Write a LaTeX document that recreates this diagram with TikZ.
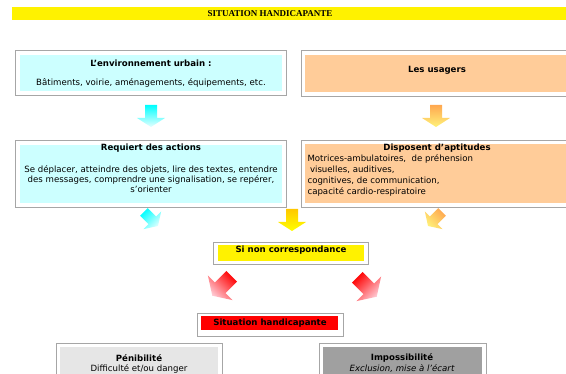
\documentclass[tikz,border=0pt]{standalone}
\usepackage{fontspec}
\setmainfont{DejaVu Sans}
\newfontfamily\titrefont{Liberation Serif}
\usepackage{tikz}
\usetikzlibrary{calc}

\definecolor{cyanclair}{HTML}{CCFFFF}
\definecolor{peche}{HTML}{FFCC99}
\definecolor{grisclair}{HTML}{E6E6E6}
\definecolor{grisfonce}{HTML}{A0A0A0}
\definecolor{cadregris}{HTML}{A6A6A6}
\definecolor{orangefl}{HTML}{FFA850}
\definecolor{jaunefl}{HTML}{FFF27A}
\definecolor{orfl}{HTML}{FFC800}
\definecolor{rosefl}{HTML}{FFD0DA}
\definecolor{cyanfl}{HTML}{E6FFFF}

\tikzset{
  cadre/.style={draw=cadregris, line width=0.7pt},
  titre/.style={font=\fontsize{8.6}{10.5}\selectfont\bfseries},
}

% fleche pleine : position, rotation, echelle, couleur depart, couleur arrivee, angle
\newcommand{\fleche}[6]{%
  \path[top color=#4, bottom color=#5, shading angle=#6, shift={#1}, rotate=#2, scale=#3]
    (-6,-11) -- (6,-11) -- (6,2) -- (14,2) -- (0,11) -- (-14,2) -- (-6,2) -- cycle;}

\begin{document}
\begin{tikzpicture}[x=1pt,y=-1pt,font=\fontsize{8.6}{10.5}\selectfont] % 1 unite = 1 pixel
\useasboundingbox (0,0) rectangle (566,374);
\clip (0,0) rectangle (566,374);

%BANDEAU DU HAUT
\fill [yellow] (12,7) rectangle (570,20);
\node [font=\titrefont\fontsize{9}{10}\selectfont\bfseries] (bandeau) at (270,13.5) {SITUATION HANDICAPANTE};

%CADRE GAUCHE, LIGNE 1
\draw [cadre] (15,50) rectangle (286,95);
\fill [cyanclair] (20,55) rectangle (282,91);
\node [titre] (envtitre) at (151,63) {L’environnement urbain :};
\node (envtexte) at (151,83) {Bâtiments, voirie, aménagements, équipements, etc.};

%CADRE DROIT, LIGNE 1
\draw [cadre] (301,50) rectangle (575,96);
\fill [peche] (305,55) rectangle (571,92);
\node [titre] (usagers) at (437,70) {Les usagers};

%FLECHES ENTRE LIGNE 1 ET LIGNE 2
\fleche{(151,116)}{0}{1}{cyan}{cyanfl}{0}
\fleche{(436,116)}{0}{1}{orangefl}{jaunefl}{0}

%CADRE GAUCHE, LIGNE 2
\draw [cadre] (15,140) rectangle (286,207);
\fill [cyanclair] (20,145) rectangle (282,203);
\node [titre] (actions) at (151,148) {Requiert des actions};
\node [align=center, font=\fontsize{8.6}{10}\selectfont] (actionstexte) at (151,179)
  {Se déplacer, atteindre des objets, lire des textes, entendre\\
   des messages, comprendre une signalisation, se repérer,\\
   s’orienter};

%CADRE DROIT, LIGNE 2
\draw [cadre] (301,140) rectangle (575,207);
\fill [peche] (305,144) rectangle (571,203);
\node [titre] (aptitudes) at (437,148) {Disposent d’aptitudes};
\node [align=left, anchor=west, font=\fontsize{8.6}{11.2}\selectfont] (aptitudestexte) at (304,175.5)
  {Motrices-ambulatoires,~ de préhension\\
   \hspace{2.5pt}visuelles, auditives,\\
   cognitives, de communication,\\
   capacité cardio-respiratoire};

%FLECHES VERS LA CORRESPONDANCE
\fleche{(151,219)}{45}{0.9}{cyan}{cyanfl}{45}
\fleche{(292,220)}{0}{1}{orfl}{yellow}{0}
\fleche{(435,219)}{-45}{0.9}{orangefl}{jaunefl}{-45}

%SI NON CORRESPONDANCE
\draw [cadre] (213,242) rectangle (368,264);
\fill [yellow] (218,245) rectangle (364,261);
\node [titre] (correspondance) at (291,250) {Si non correspondance};

%FLECHES ROUGES
\fleche{(222,286)}{-45}{1.25}{red}{rosefl}{-45}
\fleche{(367,287)}{45}{1.25}{red}{rosefl}{45}

%SITUATION HANDICAPANTE
\draw [cadre] (197,313) rectangle (343,336);
\fill [red] (201,316) rectangle (338,330);
\node [titre] (situation) at (270,323) {Situation handicapante};

%PENIBILITE
\draw [cadre] (56,343) rectangle (222,385);
\fill [grisclair] (60,347) rectangle (218,385);
\node [titre] (penibilite) at (139,358) {Pénibilité};
\node (penibilitetexte) at (139,369) {Difficulté et/ou danger};

%IMPOSSIBILITE
\draw [cadre] (319,343) rectangle (486,385);
\fill [grisfonce] (323,347) rectangle (482,385);
\node [titre] (impossibilite) at (402,358) {Impossibilité};
\node [font=\fontsize{8.6}{10.5}\selectfont\itshape] (impossibilitetexte) at (402,369) {Exclusion, mise à l’écart};

\end{tikzpicture}
\end{document}
